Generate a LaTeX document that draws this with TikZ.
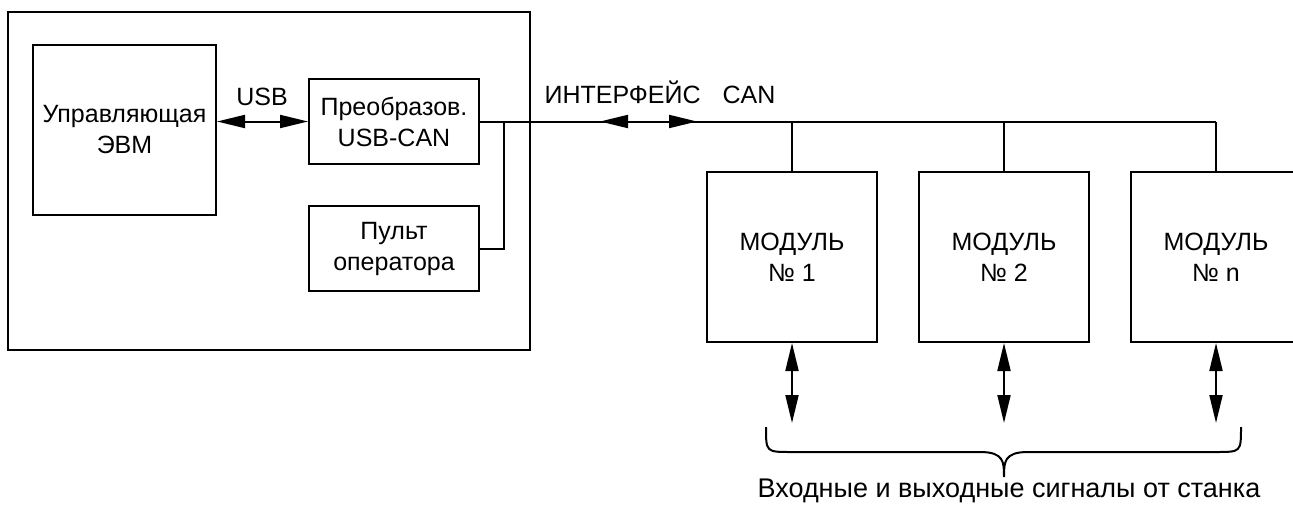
\documentclass[tikz,border=0pt]{standalone}
\usepackage{fontspec}
\setmainfont{Liberation Sans}
\usetikzlibrary{arrows.meta}
\begin{document}
\begin{tikzpicture}[x=1pt,y=-1pt,
  line width=2pt,
  every node/.style={font=\fontsize{25}{31}\selectfont},
  blk/.style={draw,line width=2pt,inner sep=0pt,align=center},
  lbl/.style={inner sep=0pt,align=center},
  dblarrow/.style={{Triangle[length=28pt,width=13pt]}-{Triangle[length=28pt,width=13pt]}}
]
\useasboundingbox (0,0) rectangle (1293,506);
% outer frame
\node[blk,minimum width=522pt,minimum height=338pt] (frame) at (269,181) {};
% blocks
\node[blk,minimum width=183pt,minimum height=170pt] (evm) at (124.5,130) {Управляющая\\ЭВМ};
\node[blk,minimum width=170pt,minimum height=85pt] (conv) at (394,121.5) {Преобразов.\\USB-CAN};
\node[blk,minimum width=170pt,minimum height=85pt] (pult) at (394,248.5) {Пульт\\оператора};
\node[blk,minimum width=170pt,minimum height=170pt] (m1) at (792,257) {МОДУЛЬ\\№ 1};
\node[blk,minimum width=170pt,minimum height=170pt] (m2) at (1004,257) {МОДУЛЬ\\№ 2};
\node[blk,minimum width=170pt,minimum height=170pt] (m3) at (1216,257) {МОДУЛЬ\\№ n};
% labels
\node[lbl] (usb) at (262,97) {USB};
\node[lbl] (can) at (660,92) {ИНТЕРФЕЙС\hspace{22pt}CAN};
\node[lbl,font=\fontsize{27}{31}\selectfont] (sig) at (1009,491) {Входные и выходные сигналы от станка};
% USB link
\draw[dblarrow] (evm.east |- conv.east) -- (conv.east -| conv.west);
% CAN bus
\coordinate (busend) at (m3.north |- conv.east);
\coordinate (junc) at (504,121.5);
\draw (conv.east) -- (busend);
\draw (junc) |- (pult.east);
\draw (m1.north) -- (m1.north |- conv.east);
\draw (m2.north) -- (m2.north |- conv.east);
\draw (m3.north) -- (busend);
\coordinate (ca1) at (600,121.5);
\coordinate (ca2) at (697,121.5);
\draw[dblarrow] (ca1) -- (ca2);
% signal arrows
\coordinate (s1) at (792,423);
\coordinate (s2) at (1004,423);
\coordinate (s3) at (1216,423);
\draw[dblarrow] (m1.south) -- (s1);
\draw[dblarrow] (m2.south) -- (s2);
\draw[dblarrow] (m3.south) -- (s3);
% brace
\draw[line width=2pt] (766,427) .. controls (766,452) and (766,452) .. (791,452) -- (980,452)
  .. controls (1004,452) and (1004,462) .. (1004,477)
  .. controls (1004,462) and (1004,452) .. (1028,452) -- (1216,452)
  .. controls (1241,452) and (1241,452) .. (1241,427);
\end{tikzpicture}
\end{document}
